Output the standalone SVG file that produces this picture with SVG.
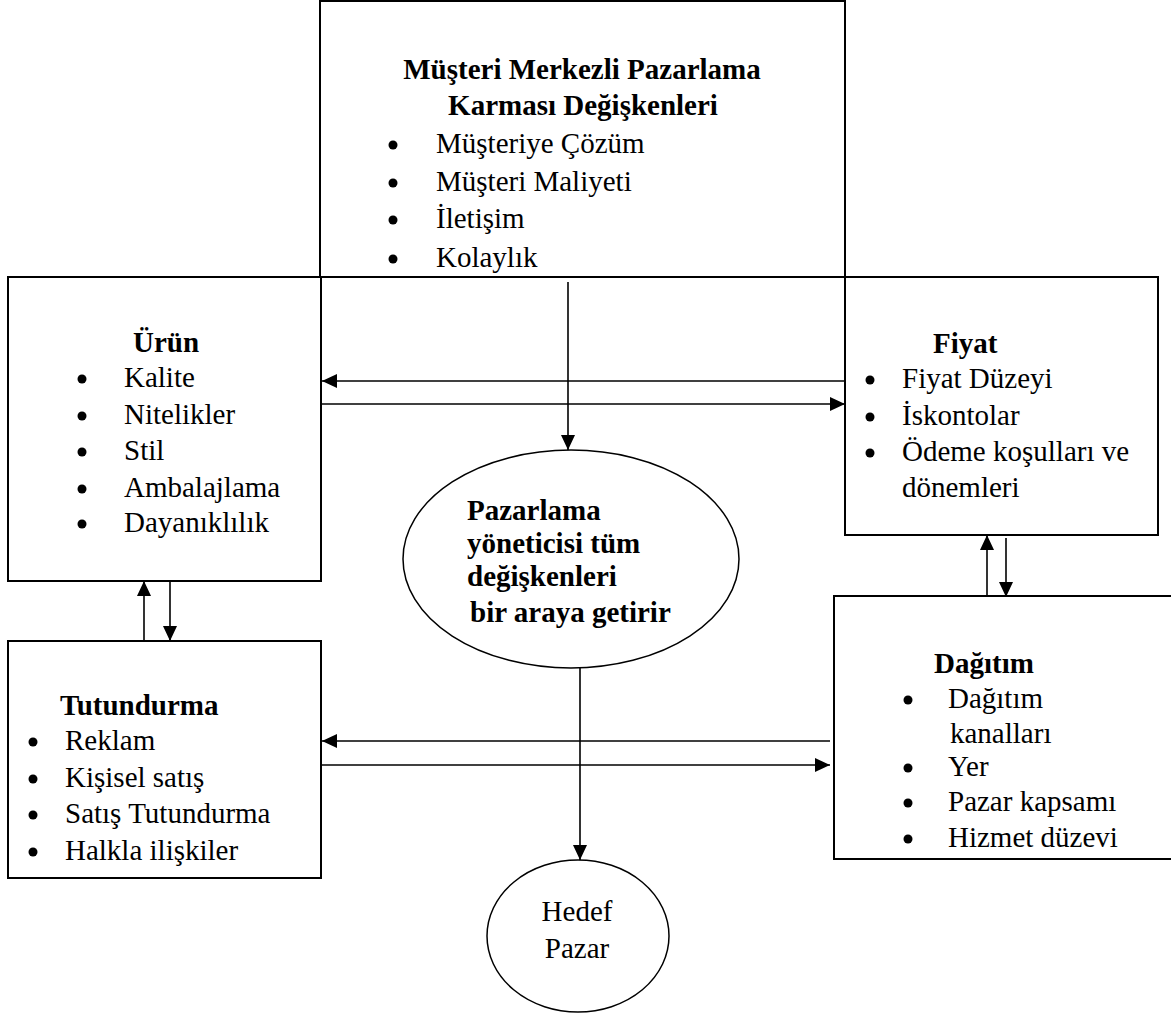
<svg xmlns="http://www.w3.org/2000/svg" width="1171" height="1016" viewBox="0 0 1171 1016">
<style>
.box{fill:none;stroke:#000;stroke-width:2}
.ell{fill:none;stroke:#000;stroke-width:1.5}
.con{fill:none;stroke:#000;stroke-width:1.6}
text{font-family:"Liberation Serif","Times New Roman",serif;font-size:29px;fill:#000}
.b{font-weight:bold}
.m{text-anchor:middle}
.dot{fill:#000}
</style>
<defs>
<marker id="ah" viewBox="0 0 15 14" refX="15" refY="7" markerWidth="15" markerHeight="14" markerUnits="userSpaceOnUse" orient="auto">
<path d="M0,0 L15,7 L0,14 z" fill="#000"/>
</marker>
</defs>
<rect width="1171" height="1016" fill="#fff"/>

<g id="musteri">
<rect class="box" x="320" y="1" width="525" height="276"/>
<text class="b m" x="582" y="79">Müşteri Merkezli Pazarlama</text>
<text class="b m" x="583" y="115">Karması Değişkenleri</text>
<circle class="dot" cx="393" cy="145" r="4.5"/><text x="436" y="153">Müşteriye Çözüm</text>
<circle class="dot" cx="393" cy="183" r="4.5"/><text x="436" y="191">Müşteri Maliyeti</text>
<circle class="dot" cx="393" cy="220" r="4.5"/><text x="436" y="228">İletişim</text>
<circle class="dot" cx="393" cy="259" r="4.5"/><text x="436" y="267">Kolaylık</text>
</g>

<g id="urun">
<rect class="box" x="8" y="277" width="313" height="304"/>
<text class="b" x="133" y="352">Ürün</text>
<circle class="dot" cx="82" cy="379" r="4.5"/><text x="124" y="387">Kalite</text>
<circle class="dot" cx="82" cy="416" r="4.5"/><text x="124" y="424">Nitelikler</text>
<circle class="dot" cx="82" cy="452" r="4.5"/><text x="124" y="460">Stil</text>
<circle class="dot" cx="82" cy="489" r="4.5"/><text x="124" y="497">Ambalajlama</text>
<circle class="dot" cx="82" cy="524" r="4.5"/><text x="124" y="532">Dayanıklılık</text>
</g>

<g id="fiyat">
<rect class="box" x="845" y="277" width="313" height="258"/>
<text class="b" x="933" y="353">Fiyat</text>
<circle class="dot" cx="870" cy="380" r="4.5"/><text x="902" y="388">Fiyat Düzeyi</text>
<circle class="dot" cx="870" cy="417" r="4.5"/><text x="902" y="425">İskontolar</text>
<circle class="dot" cx="870" cy="453" r="4.5"/><text x="902" y="461">Ödeme koşulları ve</text>
<text x="902" y="497">dönemleri</text>
</g>

<g id="tutundurma">
<rect class="box" x="8" y="641" width="313" height="237"/>
<text class="b" x="60" y="715">Tutundurma</text>
<circle class="dot" cx="33" cy="742" r="4.5"/><text x="65" y="750">Reklam</text>
<circle class="dot" cx="33" cy="779" r="4.5"/><text x="65" y="787">Kişisel satış</text>
<circle class="dot" cx="33" cy="815" r="4.5"/><text x="65" y="823">Satış Tutundurma</text>
<circle class="dot" cx="33" cy="852" r="4.5"/><text x="65" y="860">Halkla ilişkiler</text>
</g>

<g id="dagitim">
<rect class="box" x="834" y="596" width="345" height="263"/>
<text class="b" x="934" y="673">Dağıtım</text>
<circle class="dot" cx="908" cy="700" r="4.5"/><text x="948" y="708">Dağıtım</text>
<text x="950" y="743">kanalları</text>
<circle class="dot" cx="908" cy="768" r="4.5"/><text x="948" y="776">Yer</text>
<circle class="dot" cx="908" cy="803" r="4.5"/><text x="948" y="811">Pazar kapsamı</text>
<circle class="dot" cx="908" cy="839" r="4.5"/><text x="948" y="847">Hizmet düzevi</text>
</g>

<g id="yonetici">
<ellipse class="ell" cx="571" cy="559" rx="168" ry="109"/>
<text class="b" x="467" y="520">Pazarlama</text>
<text class="b" x="467" y="553">yöneticisi tüm</text>
<text class="b" x="467" y="586">değişkenleri</text>
<text class="b" x="470" y="622">bir araya getirir</text>
</g>

<g id="hedef">
<ellipse class="ell" cx="578" cy="936" rx="91" ry="76"/>
<text class="m" x="577" y="921">Hedef</text>
<text class="m" x="577" y="958">Pazar</text>
</g>

<g id="connectors">
<path class="con" d="M568,282 V450" marker-end="url(#ah)"/>
<path class="con" d="M845,381 H322" marker-end="url(#ah)"/>
<path class="con" d="M321,404 H845" marker-end="url(#ah)"/>
<path class="con" d="M580,668 V860" marker-end="url(#ah)"/>
<path class="con" d="M830,741 H322" marker-end="url(#ah)"/>
<path class="con" d="M321,765 H830" marker-end="url(#ah)"/>
<path class="con" d="M144,641 V581" marker-end="url(#ah)"/>
<path class="con" d="M170,581 V641" marker-end="url(#ah)"/>
<path class="con" d="M987,597 V535" marker-end="url(#ah)"/>
<path class="con" d="M1006,538 V597" marker-end="url(#ah)"/>
</g>
</svg>
